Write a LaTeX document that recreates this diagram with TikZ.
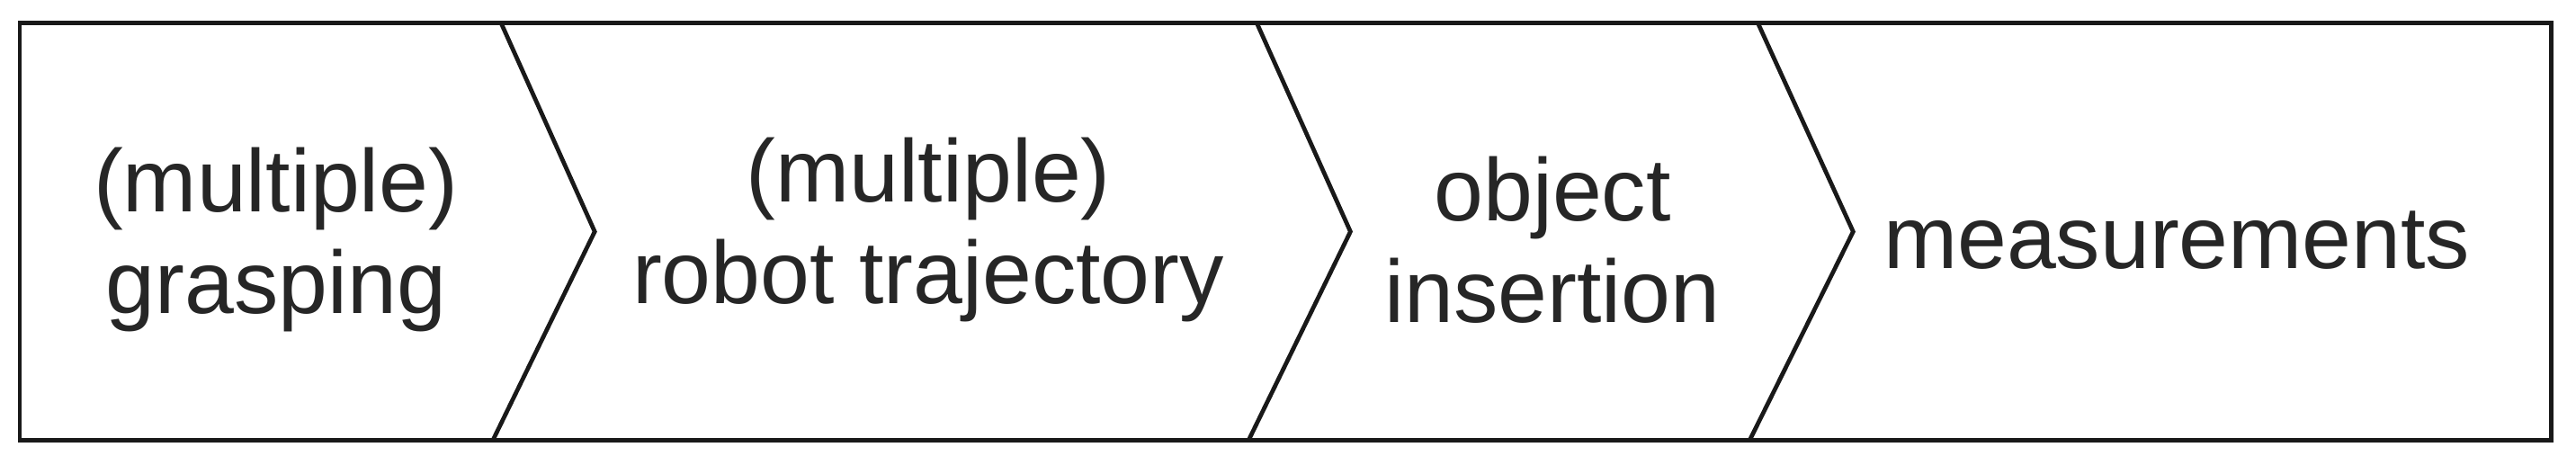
\documentclass[tikz,border=0pt]{standalone}
\usepackage{fontspec}
\setmainfont{Liberation Sans}
\begin{document}
\begin{tikzpicture}[x=1pt,y=-1pt,
  lbl/.style={align=center,font=\fontsize{54}{62}\selectfont,text=black!85},
  ln/.style={line width=2.6pt,black!90}]
\useasboundingbox (0,0) rectangle (1568,283);
\draw[ln] (12,14) rectangle (1553,268);
\draw[ln,line join=miter] (305,14) -- (362,141) -- (300,268);
\draw[ln,line join=miter] (765,14) -- (822,141) -- (760,268);
\draw[ln,line join=miter] (1070,14) -- (1128,141) -- (1065,268);
\node[lbl] (a) at (168,146) {(multiple)\\grasping};
\node[lbl] (b) at (565,140) {(multiple)\\robot trajectory};
\node[lbl] (c) at (945,146) {object\\insertion};
\node[lbl] (d) at (1325,146) {measurements};
\end{tikzpicture}
\end{document}
